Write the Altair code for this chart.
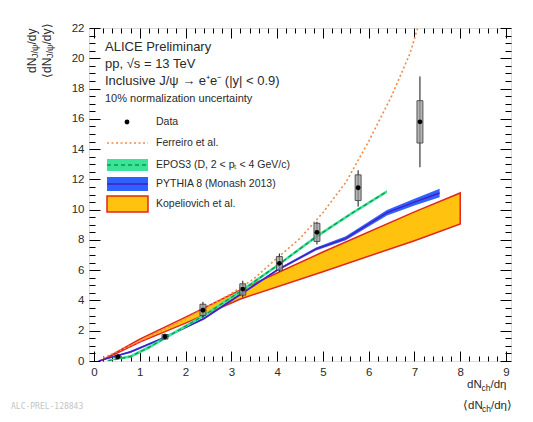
import altair as alt
import pandas as pd
import numpy as np

# ---------------- data ----------------
data_x = [0.52, 1.55, 2.38, 3.25, 4.05, 4.87, 5.77, 7.12]
data_y = [0.28, 1.60, 3.35, 4.75, 6.45, 8.50, 11.45, 15.80]
stat_lo = [0.15, 1.40, 2.85, 4.20, 5.90, 7.70, 10.20, 12.80]
stat_hi = [0.42, 1.82, 3.90, 5.30, 7.10, 9.20, 12.60, 18.80]
sys_lo = [0.20, 1.45, 3.00, 4.35, 6.00, 7.90, 10.60, 14.40]
sys_hi = [0.36, 1.75, 3.75, 5.10, 6.90, 9.10, 12.30, 17.20]

ferreiro_x = [0.2, 1.0, 2.0, 3.0, 3.5, 4.0, 4.5, 5.0, 5.5, 6.0, 6.5, 6.9, 7.07]
ferreiro_y = [0.2, 1.3, 2.8, 4.45, 5.45, 6.8, 8.1, 9.8, 11.8, 14.5, 17.5, 20.3, 22.0]

epos_x = [0.3, 0.8, 1.2, 1.6, 2.4, 3.2, 4.0, 4.85, 5.6, 6.4]
epos_y = [0.0, 0.3, 0.9, 1.6, 3.0, 4.6, 6.3, 8.2, 9.7, 11.2]
epos_lo = [0.0, 0.2, 0.8, 1.5, 2.9, 4.5, 6.2, 8.1, 9.6, 11.1]
epos_hi = [0.08, 0.4, 1.0, 1.7, 3.1, 4.7, 6.4, 8.3, 9.8, 11.3]

pythia_x = [0.1, 0.8, 1.5, 2.4, 3.2, 4.0, 4.85, 5.5, 6.4, 7.0, 7.55]
pythia_y = [0.0, 0.6, 1.5, 2.8, 4.4, 6.0, 7.4, 8.1, 9.8, 10.5, 11.1]
pythia_lo = [0.0, 0.53, 1.43, 2.73, 4.33, 5.93, 7.3, 7.98, 9.62, 10.28, 10.82]
pythia_hi = [0.04, 0.67, 1.57, 2.87, 4.47, 6.07, 7.5, 8.25, 9.98, 10.72, 11.38]

kop_x = [0.15, 1.0, 2.0, 3.2, 5.0, 7.0, 8.0]
kop_hi = [0.0, 1.45, 2.9, 4.7, 7.2, 9.85, 11.1]
kop_lo = [0.0, 1.25, 2.5, 4.1, 5.9, 7.95, 9.05]

x_major = list(range(0, 10))
y_major = list(range(0, 23, 2))
x_minor = [float(v) for v in np.round(np.arange(0, 9.001, 0.2), 2) if abs(v - round(v)) > 1e-6]
y_minor = [float(v) for v in np.round(np.arange(0, 22.001, 0.5), 2) if abs(v / 2 - round(v / 2)) > 1e-6]

# ---------------- chart ----------------
W, H = 422, 333
FONT = "Liberation Sans"
TXT = "#2a2a2a"

xs = alt.Scale(domain=[0, 9], nice=False, zero=False)
ys = alt.Scale(domain=[0, 22], nice=False, zero=False)


def X(f):
    return alt.X(f, type="quantitative", scale=xs, axis=None)


def Y(f):
    return alt.Y(f, type="quantitative", scale=ys, axis=None)


df_data = pd.DataFrame(dict(x=data_x, y=data_y, slo=stat_lo, shi=stat_hi,
                            ylo=sys_lo, yhi=sys_hi))
df_fer = pd.DataFrame(dict(x=ferreiro_x, y=ferreiro_y))
df_epos = pd.DataFrame(dict(x=epos_x, y=epos_y, lo=epos_lo, hi=epos_hi))
df_pyt = pd.DataFrame(dict(x=pythia_x, y=pythia_y, lo=pythia_lo, hi=pythia_hi))
df_kop = pd.DataFrame(dict(x=kop_x, lo=kop_lo, hi=kop_hi))
dummy = pd.DataFrame({"a": [0]})

TICK = dict(title=None, domain=False, grid=False, ticks=True, tickColor="black", tickWidth=1)
LAB = dict(labelFont=FONT, labelFontSize=11.5, labelColor=TXT, labelPadding=5)


def axis_layer(xaxis, yaxis):
    # invisible helper layer that only carries an inward-pointing tick axis pair
    return (alt.Chart(df_data).mark_point(opacity=0)
            .encode(x=alt.X("x", type="quantitative", scale=xs, axis=xaxis),
                    y=alt.Y("y", type="quantitative", scale=ys, axis=yaxis)))


layers = []

# axes (negative offset pulls each axis inside the frame so its ticks point inward)
layers.append(axis_layer(
    alt.Axis(orient="bottom", values=x_major, offset=-10, tickSize=10, labels=True,
             labelFlush=False, **LAB, **TICK),
    alt.Axis(orient="left", values=y_major, offset=-11, tickSize=11, labels=True, **LAB, **TICK)))
layers.append(axis_layer(
    alt.Axis(orient="bottom", values=x_minor, offset=-5, tickSize=5, labels=False, **TICK),
    alt.Axis(orient="left", values=y_minor, offset=-6, tickSize=6, labels=False, **TICK)))
layers.append(axis_layer(
    alt.Axis(orient="top", values=x_major, offset=-10, tickSize=10, labels=False, **TICK),
    alt.Axis(orient="right", values=y_major, offset=-11, tickSize=11, labels=False, **TICK)))
layers.append(axis_layer(
    alt.Axis(orient="top", values=x_minor, offset=-5, tickSize=5, labels=False, **TICK),
    alt.Axis(orient="right", values=y_minor, offset=-6, tickSize=6, labels=False, **TICK)))

# Kopeliovich band
layers.append(alt.Chart(df_kop).mark_area(color="#ffc20e", stroke="#e3261c", strokeWidth=1.5,
                                          clip=True)
              .encode(x=X("x"), y=Y("lo"), y2="hi"))
# PYTHIA band + line
layers.append(alt.Chart(df_pyt).mark_area(color="#2e62ff", clip=True)
              .encode(x=X("x"), y=Y("lo"), y2="hi"))
layers.append(alt.Chart(df_pyt).mark_line(color="#4a1cc0", strokeWidth=1.4, clip=True)
              .encode(x=X("x"), y=Y("y")))
# EPOS3 band + dashed line
layers.append(alt.Chart(df_epos).mark_area(color="#3ae395", clip=True)
              .encode(x=X("x"), y=Y("lo"), y2="hi"))
layers.append(alt.Chart(df_epos).mark_line(color="#0a9a50", strokeWidth=1.3, strokeDash=[4, 3],
                                           clip=True)
              .encode(x=X("x"), y=Y("y")))
# Ferreiro dotted
layers.append(alt.Chart(df_fer).mark_line(color="#ef8a4a", strokeWidth=1.6, strokeDash=[2, 2.5],
                                          clip=True)
              .encode(x=X("x"), y=Y("y")))
# data
layers.append(alt.Chart(df_data).mark_rule(color="#111", strokeWidth=1)
              .encode(x=X("x"), y=Y("slo"), y2="shi"))
layers.append(alt.Chart(df_data).mark_bar(size=6, fill="#9a9a9a", fillOpacity=0.75,
                                          stroke="#3a3a3a", strokeWidth=0.8)
              .encode(x=X("x"), y=Y("ylo"), y2="yhi"))
layers.append(alt.Chart(df_data).mark_point(filled=True, size=24, color="black", opacity=1)
              .encode(x=X("x"), y=Y("y")))


def text(s, x, y, size=10, color=TXT, align="left", angle=0, font=FONT):
    kw = dict(text=s, align=align, baseline="middle", font=font, fontSize=size, color=color)
    if angle:
        kw["angle"] = angle
    return alt.Chart(dummy).mark_text(**kw).encode(x=alt.value(x), y=alt.value(y))


# header texts
layers.append(text("ALICE Preliminary", 16, 19, 13))
layers.append(text("pp, √s = 13 TeV", 16, 36, 13))
layers.append(text("Inclusive J/ψ → e⁺e⁻ (|y| < 0.9)", 16, 53, 13))
layers.append(text("10% normalization uncertainty", 16, 71, 11))

# legend
LF = 10.5
layers.append(alt.Chart(dummy).mark_point(filled=True, size=24, color="black", opacity=1)
              .encode(x=alt.value(38), y=alt.value(94)))
layers.append(text("Data", 67, 94, LF))
layers.append(alt.Chart(dummy).mark_rule(color="#ef8a4a", strokeWidth=1.5, strokeDash=[2, 2.5])
              .encode(x=alt.value(18), x2=alt.value(59), y=alt.value(115)))
layers.append(text("Ferreiro et al.", 67, 115, LF))
layers.append(alt.Chart(dummy).mark_rect(color="#3ae395")
              .encode(x=alt.value(18), x2=alt.value(59), y=alt.value(131), y2=alt.value(143)))
layers.append(alt.Chart(dummy).mark_rule(color="#0a9a50", strokeWidth=1.3, strokeDash=[4, 3])
              .encode(x=alt.value(18), x2=alt.value(59), y=alt.value(137)))
layers.append(text("EPOS3 (D, 2 < pₜ < 4 GeV/c)", 67, 137, LF))
layers.append(alt.Chart(dummy).mark_rect(color="#2e62ff")
              .encode(x=alt.value(18), x2=alt.value(59), y=alt.value(149), y2=alt.value(163)))
layers.append(alt.Chart(dummy).mark_rule(color="#4a1cc0", strokeWidth=1.4)
              .encode(x=alt.value(18), x2=alt.value(59), y=alt.value(156)))
layers.append(text("PYTHIA 8 (Monash 2013)", 67, 156, LF))
layers.append(alt.Chart(dummy).mark_rect(color="#ffc20e", stroke="#e3261c", strokeWidth=1.5)
              .encode(x=alt.value(18), x2=alt.value(59), y=alt.value(168), y2=alt.value(184)))
layers.append(text("Kopeliovich et al.", 67, 176, LF))

# y-axis title (rotated fraction)
layers.append(text("dN", -57, 45, 12, angle=270))
layers.append(text("J/ψ", -54, 30, 9, angle=270))
layers.append(text("/dy", -57, 16.5, 12, angle=270))
layers.append(text("⟨dN", -42, 50, 12, angle=270))
layers.append(text("J/ψ", -39, 30, 9, angle=270))
layers.append(text("/dy⟩", -42, 16.5, 12, angle=270))

# x-axis title (fraction)
layers.append(text("dN", 378, 357, 11.5))
layers.append(text("ch", 392.5, 360, 8.5))
layers.append(text("/dη", 401.5, 357, 11.5))
layers.append(text("⟨dN", 374, 378, 11.5))
layers.append(text("ch", 393, 381, 8.5))
layers.append(text("/dη⟩", 402, 378, 11.5))

# report id
layers.append(text("ALC-PREL-128843", -78, 379, 8, color="#c4c4c4", font="DejaVu Sans Mono"))

chart = (alt.layer(*layers)
         .resolve_axis(x="independent", y="independent")
         .properties(width=W, height=H, autosize="none",
                     padding={"left": 81, "top": 20, "right": 14, "bottom": 52})
         .configure_view(stroke="black", strokeWidth=1.2)
         .configure(background="white"))

chart.save("out.html", embed_options={"renderer": "svg", "actions": False})
